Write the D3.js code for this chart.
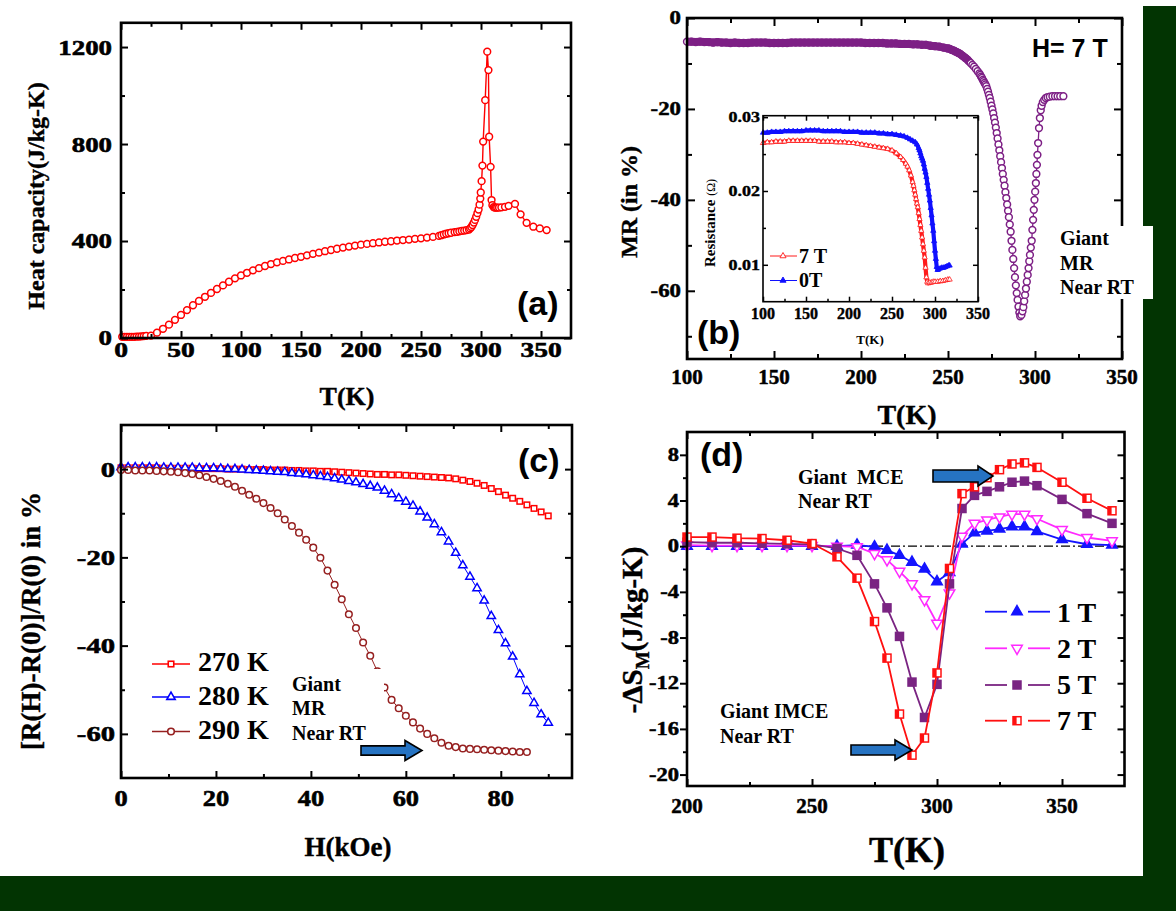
<!DOCTYPE html>
<html>
<head>
<meta charset="utf-8">
<script src="https://cdn.jsdelivr.net/npm/d3@7"></script>
<style>
  body { margin: 0; background: #fff; }
  svg { display: block; }
  text { white-space: pre; }
</style>
</head>
<body>
<svg id="fig" width="1176" height="911"></svg>
<script>
// --- Data: (a) heat capacity ---
const capT = [1,3,5,7,9,11,13,15,17,19,21,25,30,35,40,45,50,55,60,65,70,75,80,85,90,95,100,105,110,115,120,125,130,135,140,145,150,155,160,165,170,175,180,185,190,195,200,205,210,215,220,225,230,235,240,245,250,255,260,265,267,269,271,273,275,278,280,282,284,286,288,290,291,292,293,294,295,296,297,298,298.8,299.4,299.8,300.5,301.2,301.8,303.5,305.2,306.2,306.8,308,308.8,309.5,310.5,311.5,312.5,313.5,315,317,320,323,328.3,333,338,343.6,349,354.7];
const capC = [5,5,5,5,5,5,6,6,7,8,9,10,22,38,55,75,95,115,135,153,170,186,202,217,232,246,258,269,279,288,297,305,312,318,324,330,335,341,347,352,358,363,368,373,377,381,385,388,391,394,397,399,402,404,406,409,411,414,417,421,424,427,430,432,434,437,438,440,442,443,445,447,452,458,466,476,487,500,515,530,550,575,600,647,711,810,981,1181,1105,830,706,569,548,540,538,538,538,538,539,541,545,553,510,475,459,452,445];

// --- Data: (b) MR at 7 T ---
const mrT = [100,102.5,105,107.5,110,112.5,115,117.5,120,122.5,125,127.5,130,132.5,135,137.5,140,142.5,145,147.5,150,152.5,155,157.5,160,162.5,165,167.5,170,172.5,175,177.5,180,182.5,185,187.5,190,192.5,195,197.5,200,202.5,205,207.5,210,212.5,215,217.5,220,222.5,225,227.5,230,232.5,235,237.5,240,242.5,245,247.5,250,
  251,252,253,254,255,256,257,258,259,260,261,262,263,264,265,266,267,268,
  268.5,269,269.5,270,270.5,271,271.5,272,272.5,273,273.5,274,274.5,275,275.5,276,276.5,277,277.5,278,278.5,279,279.5,280,280.5,281,281.5,282,282.5,283,283.5,284,284.5,285,285.5,286,286.5,287,287.5,288,288.5,289,289.5,290,290.5,291,291.5,
  292.2,292.8,293.3,293.8,294.3,294.8,295.3,295.8,296.3,296.7,297.1,297.6,298.1,298.5,298.9,299.3,299.7,300.1,300.5,300.8,301.1,301.4,301.8,302.3,302.8,303.3,303.8,304.5,305.3,306.2,307.2,308.5,310,311.5,313,314.5,316.3];
const mrV = [-5.2,-5.2,-5.3,-5.2,-5.3,-5.3,-5.4,-5.3,-5.4,-5.4,-5.5,-5.4,-5.5,-5.5,-5.5,-5.4,-5.4,-5.4,-5.4,-5.5,-5.5,-5.5,-5.5,-5.5,-5.4,-5.4,-5.4,-5.4,-5.4,-5.4,-5.4,-5.4,-5.4,-5.4,-5.4,-5.4,-5.4,-5.4,-5.4,-5.4,-5.4,-5.5,-5.5,-5.5,-5.5,-5.5,-5.6,-5.6,-5.6,-5.7,-5.7,-5.7,-5.8,-5.8,-5.9,-5.9,-6.1,-6.2,-6.3,-6.5,-6.7,
  -6.8,-7.0,-7.1,-7.3,-7.5,-7.7,-7.9,-8.2,-8.5,-8.8,-9.1,-9.5,-9.9,-10.3,-10.7,-11.2,-11.7,-12.2,
  -12.5,-12.9,-13.2,-13.6,-13.9,-14.3,-14.6,-15.0,-15.6,-16.2,-16.9,-17.6,-18.4,-19.3,-20.1,-21.0,-22.0,-23.0,-24.1,-25.3,-26.5,-27.8,-29.1,-30.4,-31.7,-33.0,-34.3,-35.6,-36.9,-38.3,-39.6,-41.0,-42.4,-43.8,-45.4,-47.0,-49.0,-51.0,-53.0,-55.0,-57.0,-58.8,-60.5,-62.0,-63.5,-64.8,-65.6,
  -65.3,-64.5,-63.6,-62.3,-60.9,-59.5,-58.0,-56.5,-55.0,-53.5,-52.1,-50.5,-49.0,-46.6,-44.4,-42.2,-40.0,-38.2,-36.3,-34.3,-32.3,-30.1,-27.5,-24.2,-22.0,-20.3,-19.3,-18.5,-18.0,-17.6,-17.4,-17.3,-17.2,-17.2,-17.2,-17.2,-17.2];

// --- Data: (b) inset, resistance ---
const in7T = [100,105,110,115,120,125,130,135,140,145,150,155,160,165,170,175,180,185,190,195,200,205,210,215,220,225,230,235,240,245,250,255,260,263,266,268,270,272,274,275,276,277,278,279,280,281,282,283,284,285,286,287,288,289,290,291,292,294,296,298,300,303,306,309,312,315,317];
const in7R = [.0265,.0266,.0266,.0267,.0267,.0267,.0268,.0268,.0268,.0268,.0268,.0268,.0268,.0267,.0267,.0267,.0267,.0266,.0266,.0266,.0265,.0265,.0264,.0263,.0262,.0261,.0260,.0259,.0258,.0257,.0255,.0251,.0246,.0242,.0237,.0233,.0228,.0221,.0212,.0207,.0201,.0195,.0189,.0183,.0178,.0170,.0162,.0154,.0146,.0137,.0128,.0119,.0110,.0096,.0083,.0077,.0075,.0076,.0076,.0077,.0077,.0077,.0078,.0078,.0079,.0080,.0080];
const in0T = [100,105,110,115,120,125,130,135,140,145,150,155,160,165,170,175,180,185,190,195,200,205,210,215,220,225,230,235,240,245,250,255,260,264,268,271,274,277,279,281,282,283,284,285,286,287,288,289,290,291,292,293,294,295,296,297,298,299,300,301,302,303,304,306,308,310,312,314,316,317];
const in0R = [.0279,.0279,.0280,.0280,.0280,.0281,.0281,.0281,.0281,.0281,.0282,.0282,.0282,.0282,.0281,.0281,.0281,.0281,.0281,.0280,.0280,.0280,.0280,.0279,.0279,.0279,.0279,.0278,.0278,.0277,.0277,.0276,.0275,.0274,.0272,.0270,.0268,.0266,.0263,.0258,.0255,.0251,.0247,.0244,.0241,.0236,.0230,.0225,.0219,.0211,.0203,.0195,.0187,.0177,.0167,.0156,.0146,.0132,.0119,.0108,.0097,.0093,.0094,.0095,.0096,.0096,.0097,.0098,.0099,.0099];

// --- Data: (c) field dependence ---
const fieldH = [0,1.5,3,4.5,6,7.5,9,10.5,12,13.5,15,16.5,18,19.5,21,22.5,24,25.5,27,28.5,30,31.5,33,34.5,36,37.5,39,40.5,42,43.5,45,46.5,48,49.5,51,52.5,54,55.5,57,58.5,60,61.5,63,64.5,66,67.5,69,70.5,72,73.5,75,76.5,78,79.5,81,82.5,84,85.5,87,88.5,90];
const r270 = [0.3,0.3,0.3,0.3,0.3,0.3,0.2,0.2,0.2,0.2,0.2,0.1,0.1,0.1,0.1,0.0,0.0,0.0,-0.1,-0.1,-0.1,-0.2,-0.2,-0.2,-0.3,-0.3,-0.4,-0.4,-0.5,-0.5,-0.6,-0.7,-0.8,-0.9,-1.0,-1.1,-1.2,-1.2,-1.3,-1.3,-1.4,-1.5,-1.6,-1.7,-1.8,-1.9,-2.0,-2.2,-2.5,-2.8,-3.2,-3.7,-4.4,-5.1,-5.9,-6.6,-7.3,-8.1,-8.9,-9.7,-10.6];
const r280 = [0.4,0.4,0.4,0.4,0.4,0.4,0.3,0.3,0.3,0.3,0.3,0.2,0.2,0.2,0.1,0.0,0.0,-0.1,-0.2,-0.3,-0.4,-0.5,-0.6,-0.7,-0.9,-1.0,-1.2,-1.4,-1.6,-1.8,-2.1,-2.4,-2.7,-3.0,-3.4,-3.8,-4.2,-4.9,-5.7,-6.6,-7.4,-8.3,-9.6,-11.0,-12.5,-14.3,-16.4,-19.0,-21.8,-24.4,-27.0,-29.8,-33.3,-36.5,-39.5,-42.5,-46.5,-50.3,-53.0,-55.6,-57.5];
const r290 = [-0.2,-0.2,-0.3,-0.3,-0.3,-0.4,-0.5,-0.6,-0.7,-0.9,-1.1,-1.4,-1.8,-2.2,-2.7,-3.3,-4.0,-4.9,-5.8,-6.7,-7.7,-8.8,-10.0,-11.4,-12.9,-14.4,-16.0,-17.8,-20.1,-23.0,-26.2,-29.5,-32.9,-36.0,-39.3,-42.3,-45.8,-49.5,-52.3,-54.2,-55.9,-57.4,-58.8,-60.0,-61.0,-62.0,-62.7,-63.0,-63.3,-63.4,-63.5,-63.6,-63.7,-63.8,-63.9,-64.0,-64.1,-64.1];

// --- Data: (d) entropy change ---
const dT  = [200,210,220,230,240,250,260,268,275,280,285,290,295,300,305,310,315,320,325,330,335,340,350,360,370];
const ds1 = [0,0,0,0,0,0,0,0.1,-0.05,-0.35,-0.8,-1.4,-2.0,-3.1,-2.3,0.2,1.17,1.34,1.5,1.7,1.7,1.3,0.58,0.17,0.1];
const ds2 = [0.1,0.05,0.05,0.05,0.05,0.05,0,-0.05,-0.65,-1.2,-2.2,-3.3,-4.7,-6.75,-4.1,0.87,2.0,2.3,2.56,2.8,2.8,2.4,1.45,0.76,0.47];
const ds5 = [0.35,0.3,0.3,0.25,0.2,0.15,-0.2,-0.8,-3.3,-5.4,-7.9,-11.9,-15.0,-12.1,-3.3,3.3,4.45,4.8,5.2,5.6,5.7,5.3,4.1,2.85,2.0];
const ds7 = [0.8,0.8,0.7,0.67,0.52,0.23,-0.93,-2.8,-6.6,-9.8,-14.7,-18.3,-16.8,-11.1,-1.95,4.6,5.2,6.0,6.7,7.2,7.3,6.9,5.6,4.2,3.1];

// --- Setup ---
const svg = d3.select("#fig");
const SERIF = "'Liberation Serif','Times New Roman',serif";
const SANS = "'Liberation Sans',Arial,sans-serif";
const GREEN = "#023402";
const ARROW = "#2673c2";

svg.append("rect").attr("width", 1176).attr("height", 911).attr("fill", "#fff");

// --- Helpers ---
// tick labels: measured, then widened with textLength like the original (wide) figure fonts
function tickLabels(vals, pos, fixed, vertical, o) {
  const fmt = o.fmt || (d => String(d));
  const sx = o.sx || 1;
  vals.forEach(v => {
    const px = vertical ? fixed : pos(v), py = vertical ? pos(v) : fixed;
    const t = svg.append("text").attr("x", 0).attr("y", py)
      .attr("dy", vertical ? "0.34em" : "0.71em")
      .attr("text-anchor", "start")
      .attr("font-family", SERIF).attr("font-weight", "bold").attr("font-size", o.size)
      .attr("fill", "#000").attr("stroke", "#000").attr("stroke-width", o.sw || 0.4)
      .text(fmt(v));
    const w = t.node().getComputedTextLength() * sx;
    t.attr("x", vertical ? px - w : px - w / 2)
      .attr("textLength", w).attr("lengthAdjust", "spacingAndGlyphs");
  });
}

function frame(x, y, o) {
  const [xl, xr] = x.range(), [yb, yt] = y.range();
  const g = svg.append("g");
  const T = o.tick, M = o.minor;
  const add = (axis, tr) => {
    const a = g.append("g").attr("transform", tr).call(axis.tickFormat(""));
    a.select(".domain").remove();
    a.selectAll("line").attr("stroke", "#000").attr("stroke-width", o.tickW || 2);
  };
  add(d3.axisBottom(x).tickValues(o.xMajor).tickSize(-T), `translate(0,${yb})`);
  add(d3.axisBottom(x).tickValues(o.xMinor).tickSize(-M), `translate(0,${yb})`);
  add(d3.axisTop(x).tickValues(o.xMajor).tickSize(-T), `translate(0,${yt})`);
  add(d3.axisTop(x).tickValues(o.xMinor).tickSize(-M), `translate(0,${yt})`);
  const ls = o.leftOut ? 1 : -1;
  add(d3.axisLeft(y).tickValues(o.yMajor).tickSize(ls * T), `translate(${xl},0)`);
  add(d3.axisLeft(y).tickValues(o.yMinor).tickSize(ls * M), `translate(${xl},0)`);
  add(d3.axisRight(y).tickValues(o.yMajor).tickSize(-T), `translate(${xr},0)`);
  add(d3.axisRight(y).tickValues(o.yMinor).tickSize(-M), `translate(${xr},0)`);
  g.append("rect").attr("x", xl).attr("y", yt).attr("width", xr - xl).attr("height", yb - yt)
    .attr("fill", "none").attr("stroke", "#000").attr("stroke-width", o.frameW || 2.6);
  const yOff = (o.leftOut ? T : 0) + o.yPad;
  tickLabels(o.xMajor, x, yb + o.xPad, false, { size: o.xFont, sx: o.xStretch, sw: o.textW });
  tickLabels(o.yMajor, y, xl - yOff, true, { size: o.yFont, sx: o.yStretch, fmt: o.yFmt, sw: o.textW });
  return g;
}

function drawLine(x, y, X, Y, color, w) {
  svg.append("path").datum(d3.zip(X, Y))
    .attr("d", d3.line().x(d => x(d[0])).y(d => y(d[1])))
    .attr("fill", "none").attr("stroke", color).attr("stroke-width", w)
    .attr("stroke-linejoin", "round");
}

function drawMarks(x, y, X, Y, m) {
  const sel = svg.append("g").selectAll("g").data(d3.zip(X, Y)).join("g")
    .attr("transform", d => `translate(${x(d[0])},${y(d[1])})`);
  const fill = m.filled ? m.color : "#fff";
  if (m.shape === "circle") {
    sel.append("circle").attr("r", m.size).attr("fill", fill).attr("stroke", m.color).attr("stroke-width", m.sw);
  } else if (m.shape === "square" || m.shape === "half") {
    sel.append("rect").attr("x", -m.size / 2).attr("y", -m.size / 2).attr("width", m.size).attr("height", m.size)
      .attr("fill", fill).attr("stroke", m.color).attr("stroke-width", m.sw);
    if (m.shape === "half") {
      sel.append("rect").attr("x", -m.size / 2).attr("y", -m.size / 2).attr("width", m.size * 0.45).attr("height", m.size)
        .attr("fill", m.color);
    }
  } else {
    sel.append("path").attr("d", d3.symbol(d3.symbolTriangle, m.size)())
      .attr("transform", m.shape === "tridown" ? "rotate(180)" : null)
      .attr("fill", fill).attr("stroke", m.color).attr("stroke-width", m.sw);
  }
}

function label(txt, x, y, o) {
  const t = svg.append("text").attr("x", x).attr("y", y)
    .attr("font-family", o.fam || SERIF).attr("font-size", o.size)
    .attr("font-weight", o.weight || "bold").attr("text-anchor", o.anchor || "start")
    .attr("fill", "#000").text(txt);
  if (o.sw) t.attr("stroke", "#000").attr("stroke-width", o.sw);
  if (o.rot) t.attr("transform", `rotate(${o.rot},${x},${y})`);
  return t;
}

function arrow(x0, x1, xt, yc, hs, hh) {
  const pts = [[x0, yc - hs], [x1, yc - hs], [x1, yc - hh], [xt, yc], [x1, yc + hh], [x1, yc + hs], [x0, yc + hs]];
  svg.append("polygon").attr("points", pts.map(p => p.join(",")).join(" "))
    .attr("fill", ARROW).attr("stroke", "#000").attr("stroke-width", 1.6);
}

const id = v => v;

// --- Panel (a) ---
const xA = d3.scaleLinear([0, 375], [121, 571]);
const yA = d3.scaleLinear([0, 1300], [338, 22.8]);
drawLine(xA, yA, capT, capC, "#ff0000", 1.4);
drawMarks(xA, yA, capT, capC, { shape: "circle", size: 3.4, color: "#ff0000", sw: 1.5 });
frame(xA, yA, {
  xMajor: [0, 50, 100, 150, 200, 250, 300, 350], xMinor: [25, 75, 125, 175, 225, 275, 325],
  yMajor: [0, 400, 800, 1200], yMinor: [200, 600, 1000],
  tick: 7, minor: 4, xPad: 3, yPad: 9, xFont: 22, yFont: 22, xStretch: 1.25, yStretch: 1.22, textW: 0.6
});
label("Heat capacity(J/kg-K)", 44, 196, { size: 24, rot: -90, anchor: "middle", sw: 0.4 });
label("T(K)", 347, 405, { size: 26, anchor: "middle", sw: 0.4 });
label("(a)", 517, 315, { size: 34, fam: SANS });

// --- Panel (b) ---
const xB = d3.scaleLinear([100, 350], [687, 1122]);
const yB = d3.scaleLinear([-75, 0], [359, 18]);
drawLine(xB, yB, mrT, mrV, "#7d1f85", 1.3);
drawMarks(xB, yB, mrT, mrV, { shape: "circle", size: 3.4, color: "#7d1f85", sw: 1.5 });
const flatN = mrT.filter(t => t <= 262).length;
drawLine(xB, yB, mrT.slice(0, flatN), mrV.slice(0, flatN), "#7d1f85", 8);
frame(xB, yB, {
  xMajor: [100, 150, 200, 250, 300, 350], xMinor: [125, 175, 225, 275, 325],
  yMajor: [0, -20, -40, -60], yMinor: [-10, -30, -50, -70],
  tick: 8, minor: 5, xPad: 11, yPad: 6, xFont: 20, yFont: 19, xStretch: 1.05, yStretch: 1.2, textW: 0.5
});
label("MR (in %)", 637, 202, { size: 24, rot: -90, anchor: "middle", sw: 0.4 });
label("T(K)", 907, 424, { size: 28, anchor: "middle", sw: 0.4 });
label("H= 7 T", 1032, 57, { size: 25, fam: SANS });
label("(b)", 697, 344, { size: 34, fam: SANS });

// inset
const xI = d3.scaleLinear([100, 350], [763, 978]);
const yI = d3.scaleLinear([0.005, 0.0302], [301.7, 115.7]);
svg.append("rect").attr("x", 763).attr("y", 115.7).attr("width", 215).attr("height", 186).attr("fill", "#fff");
drawLine(xI, yI, in7T, in7R, "#ff1a1a", 4.2);
drawMarks(xI, yI, in7T, in7R, { shape: "tri", size: 12, color: "#ff1a1a", sw: 0.8 });
drawLine(xI, yI, in0T, in0R, "#1010ff", 4.2);
drawMarks(xI, yI, in0T, in0R, { shape: "tri", size: 12, color: "#1010ff", sw: 0.8, filled: true });
frame(xI, yI, {
  xMajor: [100, 150, 200, 250, 300, 350], xMinor: [125, 175, 225, 275, 325],
  yMajor: [0.01, 0.02, 0.03], yMinor: [0.015, 0.025],
  tick: 5, minor: 3, xPad: 6, yPad: 3, xFont: 16, yFont: 15, xStretch: 1, yStretch: 1.2, tickW: 1.5, frameW: 1.6,
  textW: 0.4, yFmt: d => d.toFixed(2)
});
const resLbl = label("Resistance ", 715, 223, { size: 15, rot: -90, anchor: "middle" });
resLbl.append("tspan").attr("font-size", 12).attr("font-weight", "normal").text("(Ω)");
label("T(K)", 870, 344, { size: 13, anchor: "middle" });
const insetLegend = [
  { name: "7 T", color: "#ff1a1a", filled: false, y: 256, ty: 263 },
  { name: "0T", color: "#1010ff", filled: true, y: 280.5, ty: 287 }
];
insetLegend.forEach(s => {
  svg.append("line").attr("x1", 770).attr("x2", 797).attr("y1", s.y).attr("y2", s.y)
    .attr("stroke", s.color).attr("stroke-width", 1);
  drawMarks(id, id, [783], [s.y], { shape: "tri", size: 16, color: s.color, sw: 0.9, filled: s.filled });
  label(s.name, 799, s.ty, { size: 20 });
});

// --- Panel (c) ---
const xC = d3.scaleLinear([0, 95], [121, 572]);
const yC = d3.scaleLinear([-70, 10], [778, 425]);
const seriesC = [
  { name: "270 K", vals: r270, color: "#ff0000", shape: "square", size: 5.5, ly: 664, ty: 671 },
  { name: "280 K", vals: r280, color: "#0000ff", shape: "tri", size: 30, ly: 697, ty: 705 },
  { name: "290 K", vals: r290, color: "#962020", shape: "circle", size: 3.3, ly: 731.5, ty: 738.5 }
];
seriesC.forEach(s => {
  drawLine(xC, yC, fieldH, s.vals, s.color, 1);
  drawMarks(xC, yC, fieldH, s.vals, { shape: s.shape, size: s.size, color: s.color, sw: 1.5 });
});
frame(xC, yC, {
  xMajor: [0, 20, 40, 60, 80], xMinor: [10, 30, 50, 70, 90],
  yMajor: [0, -20, -40, -60], yMinor: [-10, -30, -50],
  tick: 7, minor: 4, xPad: 11, yPad: 6, xFont: 24, yFont: 22, xStretch: 1.1, yStretch: 1.3, textW: 0.6
});
seriesC.forEach(s => {
  svg.append("line").attr("x1", 152).attr("x2", 190).attr("y1", s.ly).attr("y2", s.ly)
    .attr("stroke", s.color).attr("stroke-width", 1.6);
  drawMarks(id, id, [171], [s.ly], { shape: s.shape, size: s.size, color: s.color, sw: 1.6 });
  label(s.name, 198, s.ty, { size: 28 });
});
label("[R(H)-R(0)]/R(0) in %", 40, 621, { size: 27, rot: -90, anchor: "middle", sw: 0.4 });
label("H(kOe)", 348, 856, { size: 27, anchor: "middle", sw: 0.4 });
label("(c)", 518, 472, { size: 34, fam: SANS });
svg.append("rect").attr("x", 286).attr("y", 669).attr("width", 98).attr("height", 76).attr("fill", "#fff");
label("Giant", 292, 691, { size: 20 });
label("MR", 292, 715, { size: 20 });
label("Near RT", 292, 740, { size: 20 });
arrow(361, 405, 422, 750.5, 4.6, 10);

// --- Panel (d) ---
const xD = d3.scaleLinear([200, 375], [687, 1124.5]);
const yD = d3.scaleLinear([-21, 10], [786, 432]);
svg.append("line").attr("x1", 687).attr("x2", 1124.5).attr("y1", yD(0)).attr("y2", yD(0))
  .attr("stroke", "#000").attr("stroke-width", 1.2).attr("stroke-dasharray", "9,3,2,3");
const seriesD = [
  { name: "1 T", vals: ds1, color: "#1414ff", shape: "tri", size: 48, filled: true, ly: 611.7, ty: 622 },
  { name: "2 T", vals: ds2, color: "#ff2aff", shape: "tridown", size: 48, filled: false, ly: 648.3, ty: 658 },
  { name: "5 T", vals: ds5, color: "#7a2482", shape: "square", size: 8, filled: true, ly: 685, ty: 694 },
  { name: "7 T", vals: ds7, color: "#ff1010", shape: "half", size: 8, filled: false, ly: 720.7, ty: 730 }
];
seriesD.forEach(s => {
  drawLine(xD, yD, dT, s.vals, s.color, 1.8);
  drawMarks(xD, yD, dT, s.vals, { shape: s.shape, size: s.size, color: s.color, sw: 1.5, filled: s.filled });
});
frame(xD, yD, {
  xMajor: [200, 250, 300, 350], xMinor: [225, 275, 325],
  yMajor: [8, 4, 0, -4, -8, -12, -16, -20], yMinor: [6, 2, -2, -6, -10, -14, -18],
  tick: 7, minor: 4, leftOut: true, xPad: 13, yPad: 1, xFont: 20, yFont: 18, xStretch: 1.05, yStretch: 1.25, textW: 0.5
});
seriesD.forEach(s => {
  svg.append("line").attr("x1", 985).attr("x2", 1007).attr("y1", s.ly).attr("y2", s.ly)
    .attr("stroke", s.color).attr("stroke-width", 1.8);
  svg.append("line").attr("x1", 1028).attr("x2", 1050).attr("y1", s.ly).attr("y2", s.ly)
    .attr("stroke", s.color).attr("stroke-width", 1.8);
  drawMarks(id, id, [1017], [s.ly], { shape: s.shape, size: s.size, color: s.color, sw: 1.5, filled: s.filled });
  label(s.name, 1057, s.ty, { size: 28 });
});
const dsLbl = label("-ΔS", 642, 630, { size: 29, rot: -90, anchor: "middle", sw: 0.4 });
dsLbl.append("tspan").attr("dy", 7).attr("font-size", 19).text("M");
dsLbl.append("tspan").attr("dy", -7).text("(J/kg-K)");
label("T(K)", 907, 862, { size: 36, anchor: "middle", sw: 0.5 });
label("(d)", 700, 466, { size: 34, fam: SANS });
label("Giant  MCE", 798, 484, { size: 20 });
label("Near RT", 798, 508, { size: 20 });
label("Giant IMCE", 720, 718, { size: 20 });
label("Near RT", 720, 743, { size: 20 });
arrow(933, 978, 993, 476, 6, 10);
arrow(851, 895, 912, 750, 5, 10);

// --- Slide background strips ---
svg.append("rect").attr("x", 1143).attr("y", 6).attr("width", 33).attr("height", 905).attr("fill", GREEN);
svg.append("rect").attr("x", 0).attr("y", 876).attr("width", 1176).attr("height", 35).attr("fill", GREEN);

// (b) annotation box sits over the strip
svg.append("rect").attr("x", 1052).attr("y", 226).attr("width", 101).attr("height", 73).attr("fill", "#fff");
label("Giant", 1060, 245, { size: 20 });
label("MR", 1060, 270, { size: 20 });
label("Near RT", 1060, 294, { size: 20 });
</script>
</body>
</html>
